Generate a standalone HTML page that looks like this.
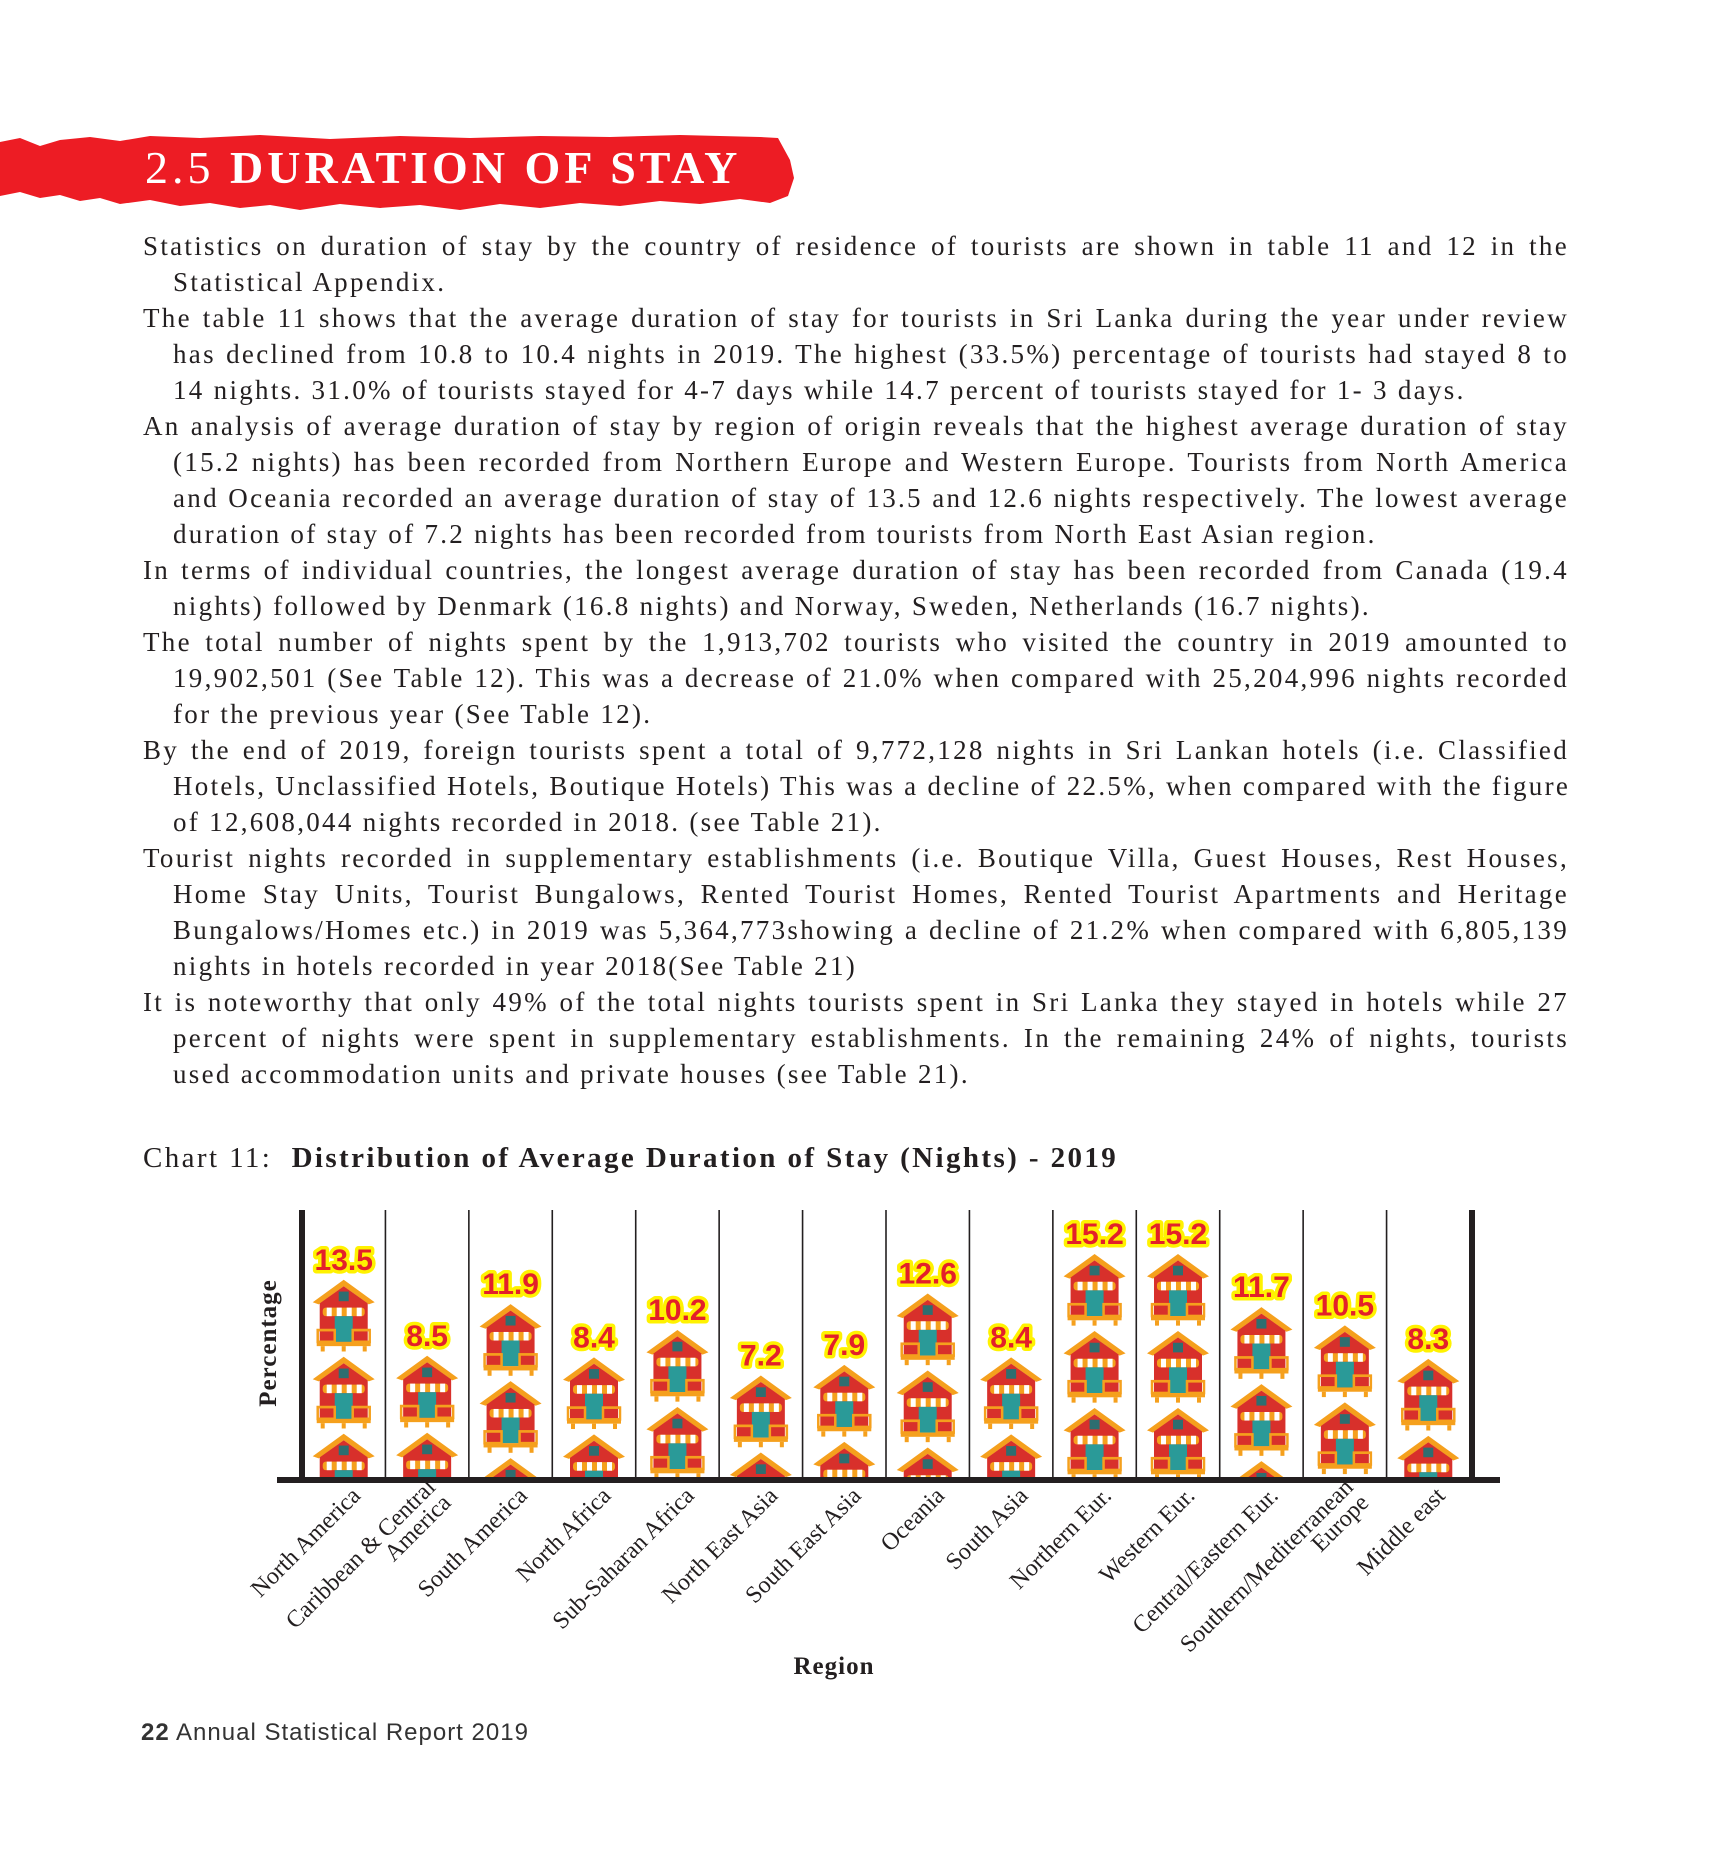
<!DOCTYPE html>
<html><head><meta charset="utf-8">
<style>
html,body{margin:0;padding:0;background:#fff;}
#page{position:relative;width:1717px;height:1867px;overflow:hidden;background:#fff;font-family:"Liberation Serif",serif;color:#231f20;}
.ln{position:absolute;left:143px;width:1426px;height:36px;line-height:36px;font-size:27px;letter-spacing:2.3px;white-space:nowrap;text-align:justify;text-align-last:justify;}
.ln.ind{left:173px;width:1396px;}
.ln.last{text-align-last:left;}
#chart{position:absolute;left:0;top:0;}
</style></head>
<body>
<div id="page">
<svg width="1717" height="220" style="position:absolute;left:0;top:0">
 <polygon fill="#ed1c24" points="0,142 20,138 40,146 60,140 90,137 120,141 150,136 200,138 260,135 330,139 400,136 470,138 540,136 610,137 680,135 760,137 778,138 790,160 794,178 788,196 770,203 740,199 700,204 660,201 620,206 580,203 540,208 500,204 460,210 420,205 380,208 340,204 300,210 270,205 240,208 210,203 180,206 150,200 120,204 100,198 80,201 60,195 40,198 20,192 0,196"/>
 <text x="145" y="183" fill="#fff" font-family="Liberation Serif, serif" font-size="46" letter-spacing="4"><tspan>2.5 </tspan><tspan font-weight="bold">DURATION OF STAY</tspan></text>
</svg>

<div>
<div class="ln" style="top:228px">Statistics on duration of stay by the country of residence of tourists are shown in table 11 and 12 in the</div>
<div class="ln ind last" style="top:264px">Statistical Appendix.</div>
<div class="ln" style="top:300px">The table 11 shows that the average duration of stay for tourists in Sri Lanka during the year under review</div>
<div class="ln ind" style="top:336px">has declined from 10.8 to 10.4 nights in 2019. The highest (33.5%) percentage of tourists had stayed 8 to</div>
<div class="ln ind last" style="top:372px">14 nights. 31.0% of tourists stayed for 4-7 days while 14.7 percent of tourists stayed for 1- 3 days.</div>
<div class="ln" style="top:408px">An analysis of average duration of stay by region of origin reveals that the highest average duration of stay</div>
<div class="ln ind" style="top:444px">(15.2 nights) has been recorded from Northern Europe and Western Europe. Tourists from North America</div>
<div class="ln ind" style="top:480px">and Oceania recorded an average duration of stay of 13.5 and 12.6 nights respectively. The lowest average</div>
<div class="ln ind last" style="top:516px">duration of stay of 7.2 nights has been recorded from tourists from North East Asian region.</div>
<div class="ln" style="top:552px">In terms of individual countries, the longest average duration of stay has been recorded from Canada (19.4</div>
<div class="ln ind last" style="top:588px">nights) followed by Denmark (16.8 nights) and Norway, Sweden, Netherlands (16.7 nights).</div>
<div class="ln" style="top:624px">The total number of nights spent by the 1,913,702 tourists who visited the country in 2019 amounted to</div>
<div class="ln ind" style="top:660px">19,902,501 (See Table 12). This was a decrease of 21.0% when compared with 25,204,996 nights recorded</div>
<div class="ln ind last" style="top:696px">for the previous year (See Table 12).</div>
<div class="ln" style="top:732px">By the end of 2019, foreign tourists spent a total of 9,772,128 nights in Sri Lankan hotels (i.e. Classified</div>
<div class="ln ind" style="top:768px">Hotels, Unclassified Hotels, Boutique Hotels) This was a decline of 22.5%, when compared with the figure</div>
<div class="ln ind last" style="top:804px">of 12,608,044 nights recorded in 2018. (see Table 21).</div>
<div class="ln" style="top:840px">Tourist nights recorded in supplementary establishments (i.e. Boutique Villa, Guest Houses, Rest Houses,</div>
<div class="ln ind" style="top:876px">Home Stay Units, Tourist Bungalows, Rented Tourist Homes, Rented Tourist Apartments and Heritage</div>
<div class="ln ind" style="top:912px">Bungalows/Homes etc.) in 2019 was 5,364,773showing a decline of 21.2% when compared with 6,805,139</div>
<div class="ln ind last" style="top:948px">nights in hotels recorded in year 2018(See Table 21)</div>
<div class="ln" style="top:984px">It is noteworthy that only 49% of the total nights tourists spent in Sri Lanka they stayed in hotels while 27</div>
<div class="ln ind" style="top:1020px">percent of nights were spent in supplementary establishments. In the remaining 24% of nights, tourists</div>
<div class="ln ind last" style="top:1056px">used accommodation units and private houses (see Table 21).</div>
</div>

<div style="position:absolute;left:143px;top:1142px;font-size:29px;letter-spacing:2.4px;white-space:nowrap;">Chart 11:&nbsp; <b>Distribution of Average Duration of Stay (Nights) - 2019</b></div>

<svg id="chart" width="1717" height="1867">
 <defs>
  <g id="house">
   <polygon points="31,0 62,21 56,23 31,6 6,23 0,21" fill="#f5a01d"/>
   <polygon points="31,6 55,22 55,58 7,58 7,22" fill="#d8302b"/>
   <rect x="26" y="11" width="10" height="9" fill="#2e6e70"/>
   <rect x="10" y="26" width="42" height="8" fill="#f5a01d" rx="3"/>
   <rect x="14" y="26" width="5" height="8" fill="#fff"/>
   <rect x="24" y="26" width="5" height="8" fill="#fff"/>
   <rect x="34" y="26" width="5" height="8" fill="#fff"/>
   <rect x="44" y="26" width="5" height="8" fill="#fff"/>
   <rect x="22" y="34" width="18" height="24" fill="#2a9a98"/>
   <rect x="5" y="47" width="17" height="11" fill="none" stroke="#f5a01d" stroke-width="2.5"/>
   <rect x="40" y="47" width="17" height="11" fill="none" stroke="#f5a01d" stroke-width="2.5"/>
   <rect x="4" y="58" width="54" height="4" fill="#f5a01d"/>
   <rect x="8" y="62" width="4" height="5" fill="#f5a01d"/>
   <rect x="29" y="62" width="4" height="5" fill="#f5a01d"/>
   <rect x="50" y="62" width="4" height="5" fill="#f5a01d"/>
  </g>
 </defs>
 <g id="plot"></g>
</svg>

<div style="position:absolute;left:141px;top:1719px;font-family:'Liberation Sans',sans-serif;font-size:24px;letter-spacing:1px;color:#333;white-space:nowrap;"><b>22</b> Annual Statistical Report 2019</div>
</div>

<script>
const categories = ["North America","Caribbean & Central|America","South America","North Africa","Sub-Saharan Africa","North East Asia","South East Asia","Oceania","South Asia","Northern Eur.","Western Eur.","Central/Eastern Eur.","Southern/Mediterranean|Europe","Middle east"];
const values = [13.5,8.5,11.9,8.4,10.2,7.2,7.9,12.6,8.4,15.2,15.2,11.7,10.5,8.3];
const valueLabels = ["13.5","8.5","11.9","8.4","10.2","7.2","7.9","12.6","8.4","15.2","15.2","11.7","10.5","8.3"];

const NS = "http://www.w3.org/2000/svg";
const plot = document.getElementById('plot');
const X0 = 302, X1 = 1470, Y0 = 1480, YTOP = 1210;
const colW = (X1 - X0) / categories.length;
const PX_PER_UNIT = 15.2;
function xBand(i){ return X0 + i * colW; }
function xCenter(i){ return X0 + (i + 0.5) * colW; }
function yScale(v){ return Y0 + 5 - v * PX_PER_UNIT; }
function mk(tag, attrs){ const e = document.createElementNS(NS, tag); for (const k in attrs) e.setAttribute(k, attrs[k]); return e; }

for (let i = 1; i < categories.length; i++) {
  const l = mk('line', {x1: xBand(i), x2: xBand(i), y1: YTOP, y2: Y0, stroke: '#231f20', 'stroke-width': 1.6});
  
  
  plot.appendChild(l);
}
values.forEach((v, i) => {
  const top = yScale(v);
  const cid = 'clip' + i;
  const cp = mk('clipPath', {id: cid});
  cp.appendChild(mk('rect', {x: xBand(i), y: top - 2, width: colW, height: Y0 - top + 2}));
  plot.appendChild(cp);
  const g = mk('g', {'clip-path': 'url(#' + cid + ')'});
  
  
  for (let y = top; y < Y0; y += 77) {
    const u = mk('use', {href: '#house', transform: 'translate(' + (xCenter(i) - 31) + ',' + y + ') scale(1,1.07)'});
    g.appendChild(u);
  }
  plot.appendChild(g);
  const t = mk('text', {x: xCenter(i), y: top - 10, 'text-anchor': 'middle', 'font-family': 'Liberation Sans, sans-serif', 'font-weight': 'bold', 'font-size': 30, fill: '#e3202a', stroke: '#fff200', 'stroke-width': 7, 'paint-order': 'stroke', 'stroke-linejoin': 'round'});
  t.textContent = valueLabels[i];
  
  
  plot.appendChild(t);
});
const ya = mk('line', {x1: X0, x2: X0, y1: YTOP, y2: Y0, stroke: '#231f20', 'stroke-width': 6});


plot.appendChild(ya);
const ra = mk('line', {x1: X1 + 2, x2: X1 + 2, y1: YTOP, y2: Y0, stroke: '#231f20', 'stroke-width': 6});


plot.appendChild(ra);
const xa = mk('line', {x1: 277, x2: 1500, y1: Y0, y2: Y0, stroke: '#231f20', 'stroke-width': 6});


plot.appendChild(xa);
categories.forEach((c, i) => {
  const parts = c.split('|');
  const ax = xCenter(i) + 18, ay = 1497;
  const t = mk('text', {transform: 'translate(' + ax + ',' + ay + ') rotate(-45)', 'text-anchor': 'end', 'font-family': 'Liberation Serif, serif', 'font-size': 24, fill: '#231f20'});
  parts.forEach((p, k) => {
    const ts = mk('tspan', {x: 0, y: (k - (parts.length - 1)) * 22 + (parts.length > 1 ? 10 : 0)});
    ts.textContent = p;
    t.appendChild(ts);
  });
  
  
  plot.appendChild(t);
});
const yt = mk('text', {transform: 'translate(276,1343) rotate(-90)', 'text-anchor': 'middle', 'font-family': 'Liberation Serif, serif', 'font-weight': 'bold', 'font-size': 25, 'letter-spacing': 1, fill: '#231f20'});
yt.textContent = 'Percentage';


plot.appendChild(yt);
const xt = mk('text', {x: 834, y: 1674, 'text-anchor': 'middle', 'font-family': 'Liberation Serif, serif', 'font-weight': 'bold', 'font-size': 25, 'letter-spacing': 1, fill: '#231f20'});
xt.textContent = 'Region';


plot.appendChild(xt);
</script>
</body></html>
